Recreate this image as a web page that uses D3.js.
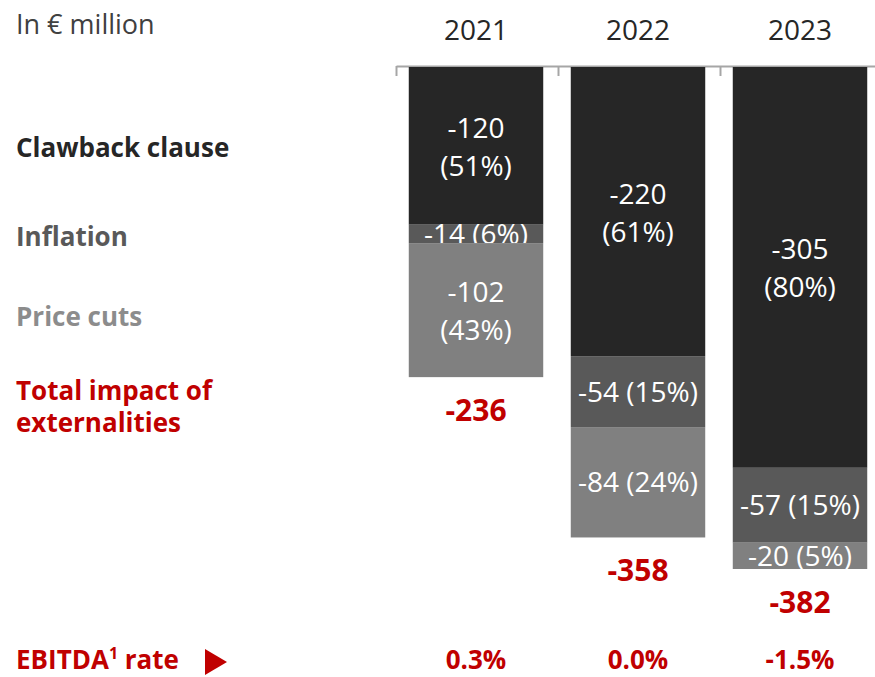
<!DOCTYPE html>
<html>
  <head>
    <meta charset="utf-8">
    <title>Impact of externalities</title>
    <script src="https://d3js.org/d3.v7.min.js"></script>
    <style>
      body { margin: 0; background: #fff; }
      svg { font-family: "Open Sans", sans-serif; }
      .year { font-size: 28px; fill: #262626; text-anchor: middle; }
      .segLabel { font-size: 28px; fill: #fff; text-anchor: middle; }
      .cat { font-size: 26px; font-weight: bold; }
      .red { fill: #c00000; font-weight: bold; font-size: 26px; }
      .axis path, .axis line { stroke: #a6a6a6; stroke-width: 2px; }
    </style>
  </head>
  <body>
    <svg id="chart" width="875" height="677"></svg>
    <script>
      // data
      const years = ["2021", "2022", "2023"];
      const categories = ["Clawback clause", "Inflation", "Price cuts"];
      const clawback = [120, 220, 305];
      const inflation = [14, 54, 57];
      const priceCuts = [102, 84, 20];
      const clawbackPct = [51, 61, 80];
      const inflationPct = [6, 15, 15];
      const priceCutsPct = [43, 24, 5];
      const totals = [236, 358, 382];
      const ebitda = ["0.3%", "0.0%", "-1.5%"];
      const colors = ["#262626", "#595959", "#808080"];
      const catColors = ["#262626", "#595959", "#8c8c8c"];

      const rows = years.map(function(y, i) {
        return { year: y, "Clawback clause": clawback[i], "Inflation": inflation[i], "Price cuts": priceCuts[i],
          pct: [clawbackPct[i], inflationPct[i], priceCutsPct[i]] };
      });

      const svg = d3.select("#chart");
      const topY = 67;

      const x = d3.scaleBand()
        .domain(years)
        .range([395, 881])
        .paddingInner(0.17)
        .paddingOuter(0.085);
      const y = d3.scaleLinear()
        .domain([0, d3.max(totals)])
        .range([topY, 569]);

      const stack = d3.stack().keys(categories);
      const series = stack(rows);

      // axis line with ticks at the column edges
      const edge = d3.scaleLinear().domain([0, 3]).range([396, 882]);
      svg.append("g")
        .classed("axis", true)
        .attr("transform", "translate(0," + (topY - 1) + ")")
        .call(d3.axisBottom(edge).tickValues([0, 1, 2, 3]).tickSize(10).tickSizeOuter(0).tickFormat(""));

      // bars
      const groups = svg.selectAll(".series")
        .data(series)
        .enter().append("g")
          .classed("series", true)
          .attr("fill", function(d, i) { return colors[i]; });
      groups.selectAll("rect")
        .data(function(d) { return d.map(function(p) { return { p: p, key: d.key, ki: d.index }; }); })
        .enter().append("rect")
          .attr("x", function(d) { return x(d.p.data.year); })
          .attr("y", function(d) { return y(d.p[0]); })
          .attr("width", x.bandwidth())
          .attr("height", function(d) { return y(d.p[1]) - y(d.p[0]); });

      // segment labels, wrapped onto two lines when they don't fit
      groups.selectAll("text")
        .data(function(d) { return d.map(function(p) { return { p: p, key: d.key, ki: d.index }; }); })
        .enter().append("text")
          .classed("segLabel", true)
          .each(function(d) {
            const el = d3.select(this);
            const cx = x(d.p.data.year) + x.bandwidth() / 2;
            const cy = (y(d.p[0]) + y(d.p[1])) / 2;
            const v = "-" + (d.p[1] - d.p[0]);
            const pc = "(" + d.p.data.pct[d.ki] + "%)";
            el.attr("x", cx).attr("y", cy + 10).text(v + " " + pc);
            if (this.getComputedTextLength() > x.bandwidth() - 8) {
              el.text(null);
              el.append("tspan").attr("x", cx).attr("y", cy - 8).text(v);
              el.append("tspan").attr("x", cx).attr("y", cy + 30).text(pc);
            }
          });

      // years
      svg.selectAll(".year")
        .data(years)
        .enter().append("text")
          .classed("year", true)
          .attr("x", function(d) { return x(d) + x.bandwidth() / 2; })
          .attr("y", 40)
          .text(function(d) { return d; });

      // totals
      svg.selectAll(".total")
        .data(totals)
        .enter().append("text")
          .classed("red", true)
          .attr("text-anchor", "middle")
          .style("font-size", "30px")
          .attr("x", function(d, i) { return x(years[i]) + x.bandwidth() / 2; })
          .attr("y", function(d) { return y(d) + 44; })
          .text(function(d) { return "-" + d; });

      // EBITDA values
      svg.selectAll(".ebitda")
        .data(ebitda)
        .enter().append("text")
          .classed("red", true)
          .attr("text-anchor", "middle")
          .attr("x", function(d, i) { return x(years[i]) + x.bandwidth() / 2; })
          .attr("y", 669)
          .text(function(d) { return d; });

      // left labels
      svg.append("text")
        .attr("x", 16).attr("y", 34)
        .style("font-size", "27px").style("fill", "#404040")
        .text("In € million");
      const catY = [157, 246, 326];
      svg.selectAll(".cat")
        .data(categories)
        .enter().append("text")
          .classed("cat", true)
          .attr("x", 16)
          .attr("y", function(d, i) { return catY[i]; })
          .style("fill", function(d, i) { return catColors[i]; })
          .text(function(d) { return d; });
      const tot = svg.append("text").classed("red", true).attr("x", 16);
      tot.append("tspan").attr("x", 16).attr("y", 400).text("Total impact of");
      tot.append("tspan").attr("x", 16).attr("y", 432).text("externalities");

      const eb = svg.append("text").classed("red", true).attr("x", 16).attr("y", 669);
      eb.append("tspan").text("EBITDA");
      eb.append("tspan").attr("dy", -10).style("font-size", "16px").text("1");
      eb.append("tspan").attr("dy", 10).text(" rate");
      svg.append("path")
        .attr("d", "M205,649 L227,662 L205,675 Z")
        .attr("fill", "#c00000");
    </script>
  </body>
</html>
